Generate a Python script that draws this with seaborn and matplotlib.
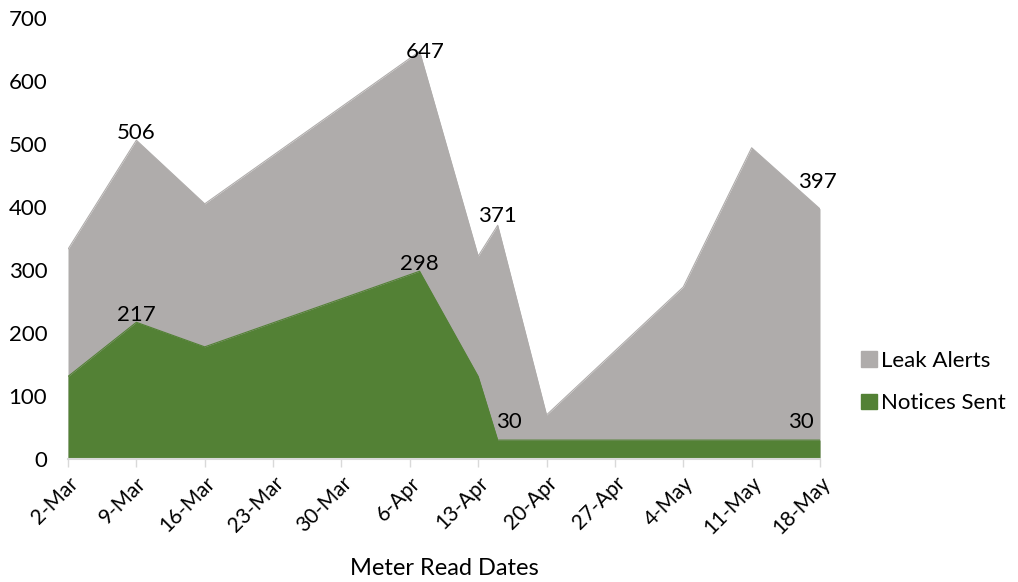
import numpy as np
import pandas as pd
import matplotlib
matplotlib.use('Agg')
import matplotlib.pyplot as plt
import matplotlib.dates as mdates
from matplotlib.patches import Patch
import seaborn as sns

read_dates = ['2015-03-02', '2015-03-09', '2015-03-16', '2015-04-07', '2015-04-13',
              '2015-04-15', '2015-04-20', '2015-05-04', '2015-05-11', '2015-05-18']
leak_alerts = [333, 506, 405, 647, 322, 371, 70, 273, 494, 397]
notices_sent = [131, 217, 178, 298, 131, 30, 30, 30, 30, 30]

# which points get a value label, and the label offset (dx, dy in points)
leak_labels = {1: (0, 1), 3: (4, -5), 5: (0, 2), 9: (-2, 15)}
notice_labels = {1: (0, 1), 3: (0, 1), 5: (8, 8.5), 9: (-14, 8.5)}

gray = '#afacab'
green = '#538135'

df = pd.DataFrame({'date': pd.to_datetime(read_dates),
                   'Leak Alerts': leak_alerts,
                   'Notices Sent': notices_sent})

sns.set_style('white')
plt.rcParams['font.family'] = ['Lato', 'DejaVu Sans']
plt.rcParams['text.color'] = 'black'
plt.rcParams['xtick.labelcolor'] = 'black'
plt.rcParams['ytick.labelcolor'] = 'black'
plt.rcParams['axes.labelcolor'] = 'black'

fig = plt.figure(figsize=(10.18, 5.82), dpi=100)
ax = fig.add_axes([68 / 1018, 123 / 582, 752 / 1018, 441 / 582])

ax.fill_between(df['date'], df['Leak Alerts'], color=gray, linewidth=0)
sns.lineplot(data=df, x='date', y='Leak Alerts', color=gray, linewidth=0.8, ax=ax)
ax.fill_between(df['date'], df['Notices Sent'], color=green, linewidth=0)
sns.lineplot(data=df, x='date', y='Notices Sent', color=green, linewidth=0.8, ax=ax)

for i, (dx, dy) in leak_labels.items():
    ax.annotate(str(leak_alerts[i]), (df['date'][i], leak_alerts[i]), xytext=(dx, dy),
                textcoords='offset points', ha='center', va='baseline', fontsize=16)
for i, (dx, dy) in notice_labels.items():
    ax.annotate(str(notices_sent[i]), (df['date'][i], notices_sent[i]), xytext=(dx, dy),
                textcoords='offset points', ha='center', va='baseline', fontsize=16)

ax.set_xlim(pd.Timestamp('2015-03-02'), pd.Timestamp('2015-05-18'))
ax.set_ylim(0, 700)
ax.set_yticks(np.arange(0, 701, 100))
ax.set_xticks(pd.date_range('2015-03-02', '2015-05-18', freq='7D'))
ax.xaxis.set_major_formatter(mdates.DateFormatter('%-d-%b'))
ax.tick_params(axis='x', length=6, width=1, color='#d9d9d9', direction='out', pad=4,
               labelsize=15, bottom=True)
ax.tick_params(axis='y', length=0, pad=15, labelsize=16)
for lbl in ax.get_xticklabels():
    lbl.set_rotation(45)
    lbl.set_ha('right')
    lbl.set_rotation_mode('anchor')

for s in ['top', 'right', 'left']:
    ax.spines[s].set_visible(False)
ax.spines['bottom'].set_color('#d9d9d9')
ax.spines['bottom'].set_linewidth(1.5)

ax.set_ylabel('')
ax.set_xlabel('Meter Read Dates', fontsize=17, labelpad=14)

handles = [Patch(color=gray, label='Leak Alerts'), Patch(color=green, label='Notices Sent')]
fig.legend(handles=handles, loc='center left', bbox_to_anchor=(841 / 1018, 1 - 382 / 582),
           frameon=False, fontsize=16, handlelength=0.7, handleheight=0.7,
           handletextpad=0.2, labelspacing=1.0)

fig.savefig('out.png', dpi=100)
